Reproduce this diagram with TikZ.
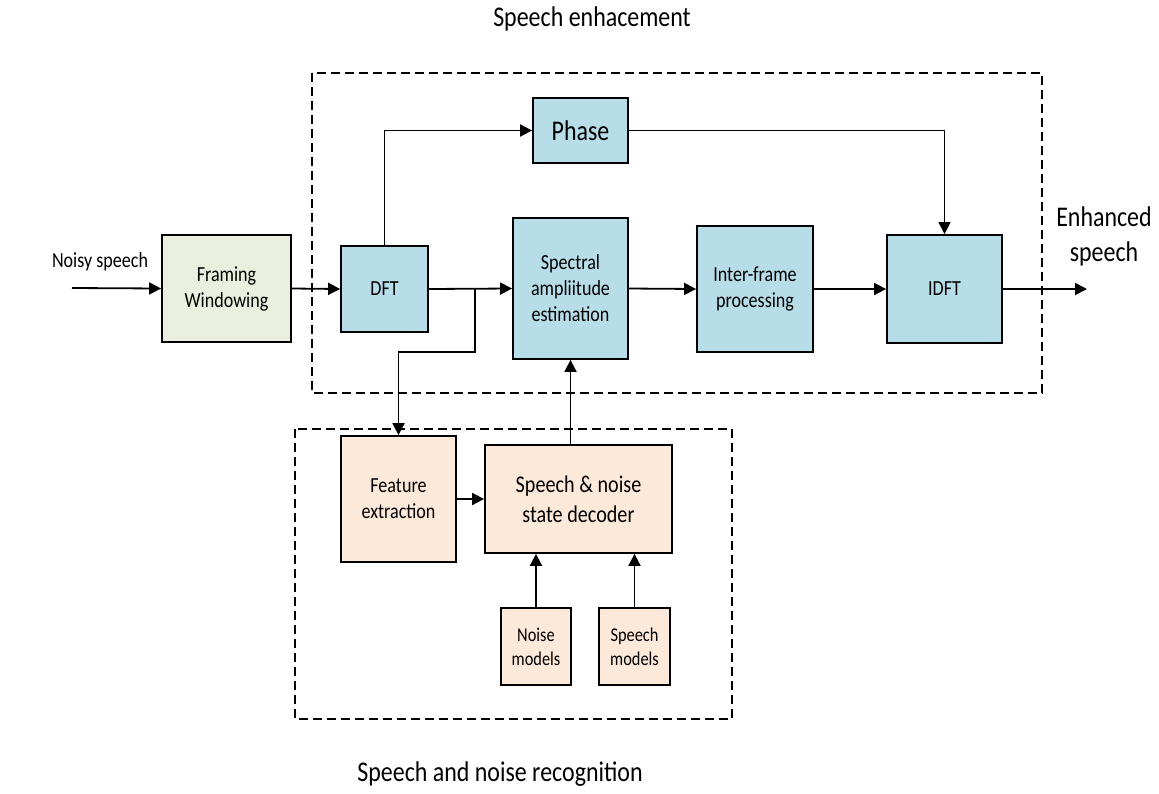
\documentclass[tikz,border=0pt]{standalone}
\usepackage{fontspec}
\setmainfont{Carlito}[FakeStretch=0.84]
\usepackage{tikz}
\usetikzlibrary{arrows.meta, positioning, calc}
\definecolor{boxblue}{RGB}{183, 221, 232}
\definecolor{boxgreen}{RGB}{235, 240, 222}
\definecolor{boxpeach}{RGB}{252, 233, 218}
\newcommand{\fsz}[2]{\fontsize{#1}{#2}\selectfont}

\begin{document}
\begin{tikzpicture}[
    x=1pt, y=-1pt,
    block/.style={draw, line width=1.8pt, align=center, inner sep=0pt, font=\fsz{21.5}{26}},
    arrow/.style={-{Triangle[length=12pt, width=12pt]}, line width=1.8pt},
    group/.style={dash pattern=on 9pt off 5pt, line width=1.8pt}
]
    \useasboundingbox (0,0) rectangle (1159,793);

    % Group frames
    \draw[group] (312,73) rectangle (1042,393);
    \draw[group] (295,429) rectangle (732,719);
    \node[font=\fsz{28.5}{30}] (enhtitle) at (592,19) {Speech enhacement};
    \node[font=\fsz{28.5}{30}] (rectitle) at (500,774) {Speech and noise recognition};

    % Input side
    \node[font=\fsz{21.5}{24}] (noisy) at (100,262) {Noisy speech};
    \coordinate (in) at (72,288);
    \node[block, fill=boxgreen, minimum width=129pt, minimum height=107pt] (frame) at (226.5,288.5) {Framing\\Windowing};

    % Enhancement chain
    \node[block, fill=boxblue, minimum width=87pt, minimum height=86pt] (dft) at (384.5,289) {DFT};
    \node[block, fill=boxblue, minimum width=95pt, minimum height=65pt, font=\fsz{28.5}{30}] (phase) at (580.5,130.5) {Phase};
    \node[block, fill=boxblue, minimum width=115pt, minimum height=141pt] (spec) at (570.5,288.5) {Spectral\\ampliitude\\estimation};
    \node[block, fill=boxblue, minimum width=116pt, minimum height=126pt] (inter) at (755,289) {Inter-frame\\processing};
    \node[block, fill=boxblue, minimum width=115pt, minimum height=108pt] (idft) at (944.5,289) {IDFT};
    \coordinate (out) at (1087,289);
    \node[font=\fsz{28.5}{35}, align=center] (enhanced) at (1104,236) {Enhanced\\speech};

    % Recognition part
    \node[block, fill=boxpeach, minimum width=115pt, minimum height=126pt] (feat) at (398.5,499) {Feature\\extraction};
    \node[block, fill=boxpeach, minimum width=187pt, minimum height=108pt, font=\fsz{24}{30}] (dec) at (578.5,499) {Speech \& noise\\state decoder};
    \node[block, fill=boxpeach, minimum width=70pt, minimum height=77pt, font=\fsz{19.5}{24}] (noise) at (536,646.5) {Noise\\models};
    \node[block, fill=boxpeach, minimum width=71pt, minimum height=77pt, font=\fsz{19.5}{24}] (smod) at (634.5,646.5) {Speech\\models};

    % Main signal path
    \draw[arrow] (in) -- (frame.west);
    \draw[arrow] (frame.east) -- (dft.west);
    \draw[arrow] (dft.east) -- (spec.west);
    \draw[arrow] (spec.east) -- (inter.west);
    \draw[arrow] (inter.east) -- (idft.west);
    \draw[arrow] (idft.east) -- (out);

    % Phase bypass
    \draw[arrow] (dft.north) |- (phase.west);
    \draw[arrow, line width=1.3pt] (phase.east) -| (idft.north);

    % Branch to the recogniser and back
    \coordinate (br) at (475,289);
    \coordinate (bk) at (475,352);
    \draw[arrow] (br) -- (bk) -| (feat.north);
    \draw[arrow] (feat.east) -- (dec.west);
    \draw[arrow] (spec.south |- dec.north) -- (spec.south);
    \draw[arrow] (noise.north) -- (noise.north |- dec.south);
    \draw[arrow] (smod.north) -- (smod.north |- dec.south);

\end{tikzpicture}
\end{document}
